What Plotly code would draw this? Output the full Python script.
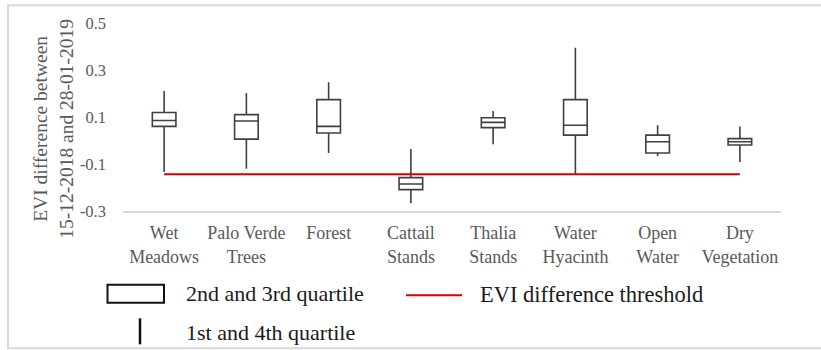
import plotly.graph_objects as go

categories = ["Wet<br>Meadows", "Palo Verde<br>Trees", "Forest", "Cattail<br>Stands",
              "Thalia<br>Stands", "Water<br>Hyacinth", "Open<br>Water", "Dry<br>Vegetation"]
whisker_low = [-0.134, -0.120, -0.053, -0.267, -0.016, -0.144, -0.066, -0.091]
q1_vals = [0.060, 0.006, 0.032, -0.209, 0.055, 0.023, -0.053, -0.019]
median_vals = [0.085, 0.083, 0.060, -0.185, 0.077, 0.065, -0.005, -0.005]
q3_vals = [0.119, 0.110, 0.174, -0.158, 0.097, 0.174, 0.023, 0.008]
whisker_high = [0.211, 0.202, 0.248, -0.036, 0.126, 0.395, 0.065, 0.060]
threshold = -0.144
y_ticks = [-0.3, -0.1, 0.1, 0.3, 0.5]
y_ticklabels = ["-0.3", "-0.1", "0.1", "0.3", "0.5"]

W, H = 821, 350
L, R, T, B = 123, 781, 22.7, 210.7


def px(x):
    return (x - L) / (R - L)


def py(y):
    return (B - y) / (B - T)


fig = go.Figure()
fig.add_trace(go.Box(
    x=categories,
    q1=q1_vals, median=median_vals, q3=q3_vals,
    lowerfence=whisker_low, upperfence=whisker_high,
    fillcolor="white",
    line=dict(color="#404040", width=1.6),
    whiskerwidth=0,
    boxpoints=False,
    hoverinfo="skip",
    showlegend=False,
))
fig.add_trace(go.Scatter(
    x=[categories[0], categories[-1]], y=[threshold, threshold],
    mode="lines", line=dict(color="#d90000", width=2),
    showlegend=False, hoverinfo="skip",
))

serif = "Liberation Serif"
shapes = [
    dict(type="rect", xref="paper", yref="paper", x0=px(8), x1=px(822), y0=py(5), y1=py(348),
         line=dict(color="#d9d9d9", width=2), fillcolor="rgba(0,0,0,0)", layer="below"),
    dict(type="rect", xref="paper", yref="paper", x0=px(107.5), x1=px(164), y0=py(284.5), y1=py(302.5),
         line=dict(color="#111111", width=2), fillcolor="white"),
    dict(type="line", xref="paper", yref="paper", x0=px(140), x1=px(140), y0=py(318), y1=py(344),
         line=dict(color="#111111", width=2.5)),
    dict(type="line", xref="paper", yref="paper", x0=px(406), x1=px(462), y0=py(295), y1=py(295),
         line=dict(color="#d90000", width=2)),
]
annotations = [
    dict(xref="paper", yref="paper", x=px(53), y=py(128.5), text="EVI difference between<br>15-12-2018 and 28-01-2019",
         textangle=-90, showarrow=False, xanchor="center", yanchor="middle",
         font=dict(family=serif, size=19.5, color="#595959")),
    dict(xref="paper", yref="paper", x=px(184), y=py(293), text="2nd and 3rd quartile",
         showarrow=False, xanchor="left", yanchor="middle",
         font=dict(family=serif, size=22, color="#1a1a1a")),
    dict(xref="paper", yref="paper", x=px(184), y=py(332), text="1st and 4th quartile",
         showarrow=False, xanchor="left", yanchor="middle",
         font=dict(family=serif, size=22, color="#1a1a1a")),
    dict(xref="paper", yref="paper", x=px(478), y=py(294), text="EVI difference threshold",
         showarrow=False, xanchor="left", yanchor="middle",
         font=dict(family=serif, size=22.5, color="#1a1a1a")),
]

fig.update_layout(
    width=W, height=H,
    margin=dict(l=L, r=W - R, t=T, b=H - B, pad=0),
    paper_bgcolor="white", plot_bgcolor="white",
    boxgap=0.59,
    shapes=shapes,
    annotations=annotations,
    font=dict(family=serif, color="#595959"),
    xaxis=dict(
        type="category", categoryorder="array", categoryarray=categories,
        showgrid=False, zeroline=False, showline=True, linecolor="#d9d9d9", linewidth=1.5,
        ticks="", tickfont=dict(family=serif, size=18, color="#595959"),
        ticklabelstandoff=5, fixedrange=True,
    ),
    yaxis=dict(
        range=[-0.3, 0.5], tickvals=y_ticks, ticktext=y_ticklabels,
        showgrid=False, zeroline=False, showline=False, ticks="",
        tickfont=dict(family=serif, size=16.5, color="#595959"),
        ticklabelstandoff=16, fixedrange=True,
    ),
)

fig.write_html("out.html", config={"displayModeBar": False})
